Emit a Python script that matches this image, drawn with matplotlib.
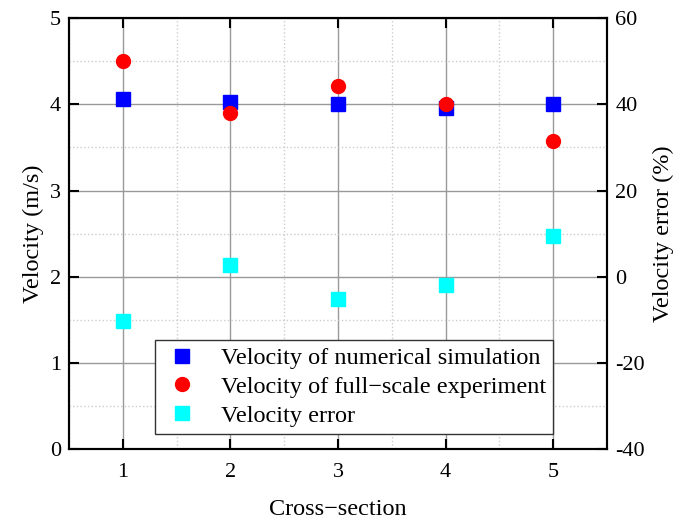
import numpy as np
import matplotlib.pyplot as plt
from matplotlib.ticker import MultipleLocator

plt.rcParams['font.family'] = ['Liberation Serif', 'DejaVu Serif']
plt.rcParams['axes.unicode_minus'] = True

sections = [1, 2, 3, 4, 5]
vel_numerical = [4.06, 4.03, 4.01, 3.96, 4.00]
vel_experiment = [4.50, 3.90, 4.21, 4.01, 3.58]
vel_error = [-10.3, 2.7, -5.2, -1.9, 9.4]

fig = plt.figure(figsize=(6.78, 5.2), dpi=100)
ax = fig.add_axes([0.102, 0.1365, 0.793, 0.8285])
ax2 = ax.twinx()

h1, = ax.plot(sections, vel_numerical, 's', color='blue', markersize=10, zorder=5,
              label='Velocity of numerical simulation')
h2, = ax.plot(sections, vel_experiment, 'o', color='red', markersize=10, zorder=5,
              label='Velocity of full\u2212scale experiment')
h3, = ax2.plot(sections, vel_error, 's', color='cyan', markersize=10, zorder=5,
               label='Velocity error')

ax.set_xlim(0.5, 5.5)
ax.set_ylim(0, 5)
ax2.set_ylim(-40, 60)
ax.set_xticks(sections)
ax.set_yticks(np.arange(0, 6, 1))
ax2.set_yticks(np.arange(-40, 61, 20))
ax2.set_yticklabels(['-40', '-20', '0', '20', '40', '60'])
ax.xaxis.set_minor_locator(MultipleLocator(0.5))
ax.yaxis.set_minor_locator(MultipleLocator(0.5))

ax.grid(which='major', color='#999999', linewidth=1.0)
ax.grid(which='minor', color='#cccccc', linestyle=':', linewidth=1.0)
ax.set_axisbelow(True)

ax.tick_params(which='major', direction='in', length=7, width=1.5, top=True, labelsize=16)
ax.tick_params(which='minor', direction='in', length=0, top=True)
ax.tick_params(axis='x', pad=10)
ax.tick_params(axis='y', pad=6)
ax2.tick_params(which='major', direction='in', length=7, width=1.5, labelsize=16, pad=6)

for a in (ax, ax2):
    for s in a.spines.values():
        s.set_linewidth(1.5)

ax.set_xlabel('Cross\u2212section', fontsize=17.5, labelpad=12)
ax.set_ylabel('Velocity (m/s)', fontsize=17.5, labelpad=4)
ax2.set_ylabel('Velocity error (%)', fontsize=17.5, labelpad=6)

leg = ax.legend(handles=[h1, h2, h3], loc='lower right', bbox_to_anchor=(0.9, 0.035),
                borderaxespad=0, fontsize=17.5, frameon=True, fancybox=False,
                handlelength=1.6, handletextpad=0.8, borderpad=0.3, labelspacing=0.28)
leg.get_frame().set_edgecolor('#333333')
leg.get_frame().set_linewidth(1.0)
leg.get_frame().set_alpha(1)
leg.set_zorder(10)

fig.savefig('out.png', dpi=100)
